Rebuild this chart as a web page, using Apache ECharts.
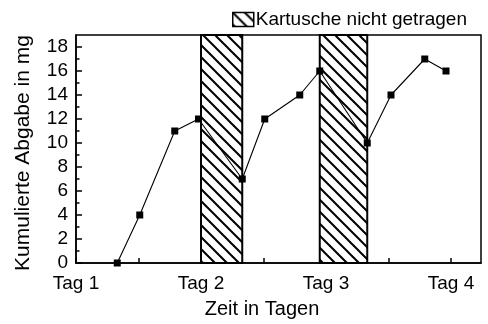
<!DOCTYPE html>
<html>
<head>
<meta charset="utf-8">
<script src="https://cdn.jsdelivr.net/npm/echarts@6/dist/echarts.min.js"></script>
<style>
html,body{margin:0;padding:0;background:#fff;}
#chart{width:488px;height:324px;}
</style>
</head>
<body>
<div id="chart"></div>
<script>
// ---- data ----
var xValues = [0.33, 0.51, 0.79, 0.98, 1.33, 1.51, 1.79, 1.95, 2.33, 2.52, 2.79, 2.96];
var yValues = [0, 4, 11, 12, 7, 12, 14, 16, 10, 14, 17, 16];
var hatchStart = [1.0, 1.95];
var hatchEnd = [1.33, 2.33];
var xTickLabels = ['Tag 1', 'Tag 2', 'Tag 3', 'Tag 4'];
var yTickLabels = ['0', '2', '4', '6', '8', '10', '12', '14', '16', '18'];
var legendName = 'Kartusche nicht getragen';

// ---- hatch pattern ----
function makeHatch() {
  var s = 12;
  var c = document.createElement('canvas');
  c.width = s; c.height = s;
  var g = c.getContext('2d');
  g.fillStyle = '#fff';
  g.fillRect(0, 0, s, s);
  g.strokeStyle = '#000';
  g.lineWidth = 2;
  g.beginPath();
  g.moveTo(-2, -2); g.lineTo(s + 2, s + 2);
  g.moveTo(-2, s - 2); g.lineTo(2, s + 2);
  g.moveTo(s - 2, -2); g.lineTo(s + 2, 2);
  g.stroke();
  return c;
}
var hatch = { image: makeHatch(), repeat: 'repeat' };

var points = xValues.map(function (x, i) { return [x, yValues[i]]; });
var areas = hatchStart.map(function (s, i) { return [{ xAxis: s }, { xAxis: hatchEnd[i] }]; });

var font = 'Liberation Sans, Arial, sans-serif';
var majorY = yTickLabels.map(function (t) { return Number(t); });
var minorY = [];
for (var k = 0; k < majorY.length - 1; k++) minorY.push((majorY[k] + majorY[k + 1]) / 2);
var xTicks = [];
for (var t = 0; t <= xTickLabels.length - 1; t += 0.5) xTicks.push(t);
var xLabelVals = xTickLabels.map(function (_, i) { return i; });

var chart = echarts.init(document.getElementById('chart'));
chart.setOption({
  animation: false,
  backgroundColor: '#fff',
  textStyle: { fontFamily: font, color: '#000' },
  grid: { left: 76, top: 35, right: 7, bottom: 56.5, show: true, borderColor: '#000', borderWidth: 1.5, backgroundColor: 'transparent' },
  legend: {
    left: 227, top: 5,
    itemWidth: 21, itemHeight: 14, itemGap: 4,
    icon: 'rect',
    data: [{ name: legendName, icon: 'rect', itemStyle: { color: hatch, borderColor: '#000', borderWidth: 1.5 } }],
    textStyle: { fontFamily: font, fontSize: 19, color: '#000', padding: [0, 0, 0, -3] }
  },
  xAxis: {
    type: 'value', min: 0, max: 3.24,
    name: 'Zeit in Tagen', nameLocation: 'middle', nameGap: 36,
    nameTextStyle: { fontFamily: font, fontSize: 20, color: '#000', padding: [0, 33, 0, 0] },
    axisLine: { show: true, lineStyle: { color: '#000', width: 1.5 } },
    axisTick: { show: true, inside: true, length: 5, customValues: xTicks, lineStyle: { color: '#000', width: 1.5 } },
    axisLabel: {
      customValues: xLabelVals, margin: 11, fontFamily: font, fontSize: 19, color: '#000',
      formatter: function (v) { var i = Math.round(v); return Math.abs(v - i) < 1e-6 && xTickLabels[i] ? xTickLabels[i] : ''; }
    },
    splitLine: { show: false }
  },
  yAxis: [{
    type: 'value', min: 0, max: 19,
    name: 'Kumulierte Abgabe in mg', nameLocation: 'middle', nameGap: 42, nameRotate: 90,
    nameTextStyle: { fontFamily: font, fontSize: 21, color: '#000', padding: [0, 8, 0, 0] },
    axisLine: { show: true, lineStyle: { color: '#000', width: 1.5 } },
    axisTick: { show: true, inside: true, length: 6, customValues: majorY, lineStyle: { color: '#000', width: 1.5 } },
    axisLabel: { customValues: majorY, margin: 8, fontFamily: font, fontSize: 19, color: '#000' },
    splitLine: { show: false }
  }, {
    type: 'value', min: 0, max: 19, position: 'left', offset: 0,
    axisLine: { show: false },
    axisTick: { show: true, inside: true, length: 3.5, customValues: minorY, lineStyle: { color: '#000', width: 1.5 } },
    axisLabel: { show: false },
    splitLine: { show: false }
  }],
  series: [{
    name: legendName, type: 'bar', data: [], z: 1,
    itemStyle: { color: hatch, borderColor: '#000', borderWidth: 1.5 },
    markArea: {
      silent: true,
      itemStyle: { color: hatch, borderColor: '#000', borderWidth: 2 },
      data: areas
    }
  }, {
    name: 'Abgabe', type: 'line', data: points, z: 5,
    symbol: 'rect', symbolSize: 7,
    itemStyle: { color: '#000' },
    lineStyle: { color: '#000', width: 1.1 }
  }]
});
</script>
</body>
</html>
